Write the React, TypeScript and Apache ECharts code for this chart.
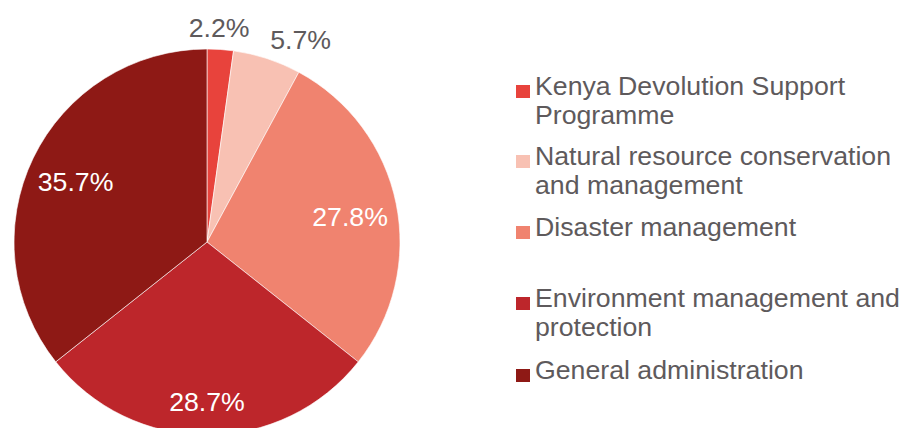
import React, { useEffect, useRef } from "react";
import * as echarts from "echarts";

const categories = [
  "Kenya Devolution Support Programme",
  "Natural resource conservation and management",
  "Disaster management",
  "Environment management and protection",
  "General administration",
];
const legendLabels = [
  "Kenya Devolution Support\nProgramme",
  "Natural resource conservation\nand management",
  "Disaster management",
  "Environment management and\nprotection",
  "General administration",
];
const values = [2.2, 5.7, 27.8, 28.7, 35.7];
const colors = ["#E8433C", "#F8C1B3", "#F0836F", "#BD262B", "#8E1915"];
// which labels sit outside the pie (small slices)
const outsideLabel = [true, true, false, false, false];

const FONT = '"Liberation Sans", Arial, sans-serif';
const TEXT = "#5e5a5c";
const FS = 26.7;

export default function App() {
  const ref = useRef<HTMLDivElement>(null);
  useEffect(() => {
    document.body.style.margin = "0";
    if (!ref.current) return;
    const chart = echarts.init(ref.current, undefined, { renderer: "svg" });
    const center = [207, 242];
    const legendTops = [71, 141, 212, 283, 355];
    // icon: square placed near the first text line inside a tall box
    const iconTwo = "path://M0,0L0.01,0M0,58L0.01,58M0,14H14V27H0Z";
    const iconOne = "path://M0,0L0.01,0M0,29L0.01,29M0,14H14V27H0Z";
    const legends = categories.map((name, i) => {
      const twoLine = legendLabels[i].includes("\n");
      return {
        orient: "vertical",
        left: 516,
        top: legendTops[i],
        padding: 0,
        icon: twoLine ? iconTwo : iconOne,
        itemWidth: 14,
        itemHeight: twoLine ? 58 : 29,
        itemStyle: { borderWidth: 0 },
        selectedMode: false,
        data: [name],
        formatter: (n: string) => legendLabels[categories.indexOf(n)],
        textStyle: {
          fontSize: FS,
          lineHeight: 29,
          color: TEXT,
          fontFamily: FONT,
        },
      };
    });
    const baseData = categories.map((name, i) => ({ name, value: values[i] }));
    chart.setOption({
      animation: false,
      legend: legends,
      series: [
        {
          type: "pie",
          center,
          radius: 193,
          startAngle: 90,
          clockwise: true,
          silent: true,
          label: { show: false },
          labelLine: { show: false },
          itemStyle: { borderColor: "#ffffff", borderWidth: 0.6 },
          data: categories.map((name, i) => ({
            name,
            value: values[i],
            itemStyle: { color: colors[i] },
          })),
        },
        {
          // inner labels layer (transparent)
          type: "pie",
          center,
          radius: 286,
          startAngle: 90,
          silent: true,
          avoidLabelOverlap: false,
          itemStyle: { color: "rgba(0,0,0,0)" },
          emphasis: { disabled: true },
          labelLine: { show: false },
          label: {
            show: true,
            position: "inside",
            color: "#ffffff",
            fontSize: FS,
            fontFamily: FONT,
            formatter: (p: any) => p.value.toFixed(1) + "%",
          },
          labelLayout: (p: any) => (p.dataIndex === 3 ? { dy: 14 } : { dy: 4 }),
          data: baseData.map((d, i) => ({
            ...d,
            label: { show: !outsideLabel[i] },
          })),
        },
        {
          // outer labels layer (transparent)
          type: "pie",
          center,
          radius: 434,
          startAngle: 90,
          silent: true,
          avoidLabelOverlap: false,
          itemStyle: { color: "rgba(0,0,0,0)" },
          emphasis: { disabled: true },
          labelLine: { show: false },
          label: {
            show: true,
            position: "inside",
            color: TEXT,
            fontSize: FS,
            fontFamily: FONT,
            formatter: (p: any) => p.value.toFixed(1) + "%",
          },
          labelLayout: (p: any) =>
            p.dataIndex === 1 ? { dx: 25, dy: 7 } : p.dataIndex === 0 ? { dx: -3, dy: 5 } : {},
          data: baseData.map((d, i) => ({
            ...d,
            label: { show: outsideLabel[i] },
          })),
        },
      ],
    });
    return () => chart.dispose();
  }, []);
  return <div ref={ref} style={{ width: 901, height: 428 }} />;
}
